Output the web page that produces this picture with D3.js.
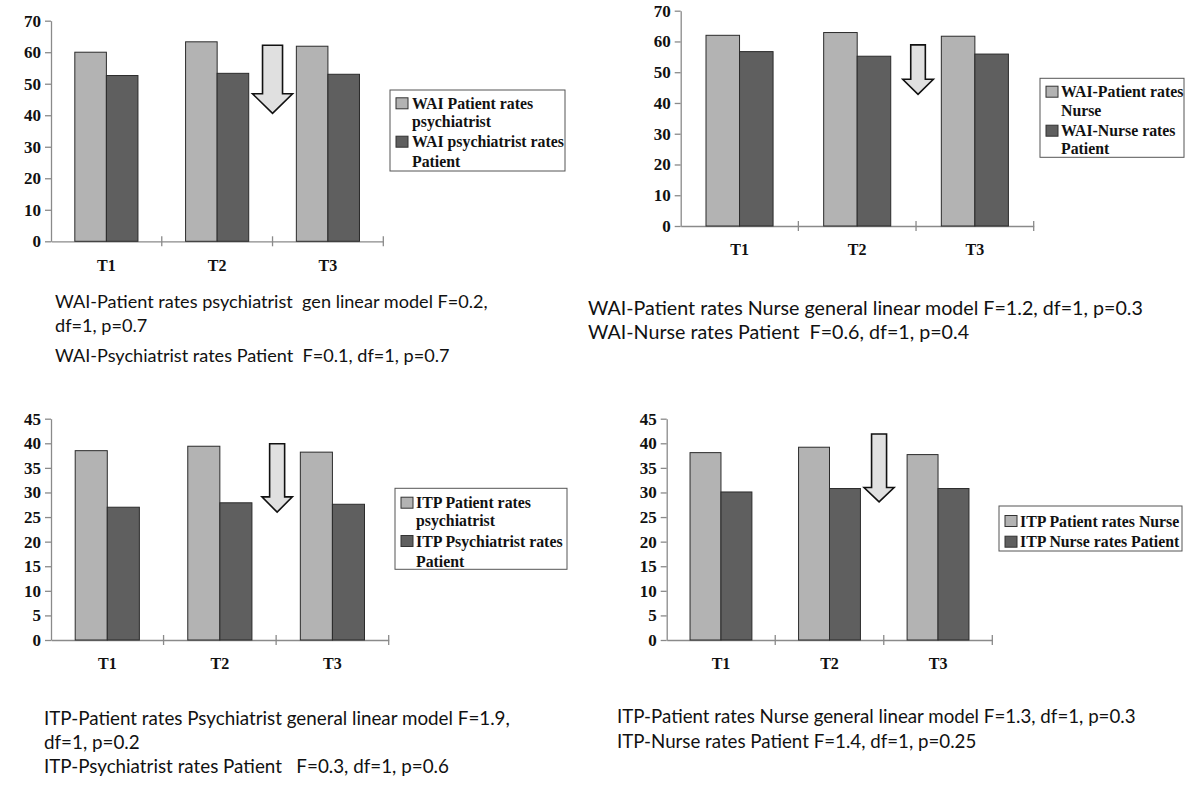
<!DOCTYPE html>
<html><head><meta charset="utf-8">
<script src="https://cdn.jsdelivr.net/npm/d3@7"></script>
<style>html,body{margin:0;padding:0;background:#fff;}</style>
</head><body>
<svg id="chart" width="1200" height="791"></svg>
<script>
// ---------- DATA ----------
const categories = ["T1", "T2", "T3"];
const waiPatientRatesPsychiatrist = [60.0, 63.3, 61.9];
const waiPsychiatristRatesPatient = [52.6, 53.3, 53.0];
const waiPatientRatesNurse = [62.0, 62.9, 61.7];
const waiNurseRatesPatient = [56.7, 55.2, 55.9];
const itpPatientRatesPsychiatrist = [38.5, 39.4, 38.2];
const itpPsychiatristRatesPatient = [27.0, 27.9, 27.6];
const itpPatientRatesNurse = [38.1, 39.2, 37.7];
const itpNurseRatesPatient = [30.1, 30.8, 30.8];
const waiTicks = [0, 10, 20, 30, 40, 50, 60, 70];
const itpTicks = [0, 5, 10, 15, 20, 25, 30, 35, 40, 45];
// arrow annotations (value units: top, neck, tip)
const arrow1 = [62.2, 46.8, 40.6];
const arrow2 = [58.9, 47.7, 42.8];
const arrow3 = [39.9, 29.1, 26.0];
const arrow4 = [41.9, 31.0, 28.1];
const legend1 = [["WAI Patient rates", "psychiatrist"], ["WAI psychiatrist rates", "Patient"]];
const legend2 = [["WAI-Patient rates", "Nurse"], ["WAI-Nurse rates", "Patient"]];
const legend3 = [["ITP Patient rates", "psychiatrist"], ["ITP Psychiatrist rates", "Patient"]];
const legend4 = [["ITP Patient rates Nurse"], ["ITP Nurse rates Patient"]];
const caption1 = ["WAI-Patient rates psychiatrist  gen linear model F=0.2,", "df=1, p=0.7", "WAI-Psychiatrist rates Patient  F=0.1, df=1, p=0.7"];
const caption2 = ["WAI-Patient rates Nurse general linear model F=1.2, df=1, p=0.3", "WAI-Nurse rates Patient  F=0.6, df=1, p=0.4"];
const caption3 = ["ITP-Patient rates Psychiatrist general linear model F=1.9,", "df=1, p=0.2", "ITP-Psychiatrist rates Patient   F=0.3, df=1, p=0.6"];
const caption4 = ["ITP-Patient rates Nurse general linear model F=1.3, df=1, p=0.3", "ITP-Nurse rates Patient F=1.4, df=1, p=0.25"];

// ---------- STYLE / LAYOUT ----------
const barColors = ["#b3b3b3", "#5f5f5f"];
const axisColor = "#8a8a8a";
const serif = "'Liberation Serif','Times New Roman',serif";
const sans = "Lato,'Open Sans',sans-serif";
const groupFrac = 0.57;

const panels = [
  { left: 51, right: 383.3, top: 20.7, bottom: 241.3, max: 70, ticks: waiTicks,
    series: [waiPatientRatesPsychiatrist, waiPsychiatristRatesPatient],
    arrow: arrow1, shaftW: 20, headW: 40, dx: 0,
    legend: { labels: legend1, box: [390, 90, 175, 81], swX: 396, txX: 412, rows: [[103.3, 121.7], [141.7, 161.7]] },
    caption: { lines: caption1, x: 55, ys: [301, 325, 355], width: 433 } },
  { left: 680.7, right: 1033.7, top: 10.7, bottom: 226, max: 70, ticks: waiTicks,
    series: [waiPatientRatesNurse, waiNurseRatesPatient],
    arrow: arrow2, shaftW: 14.6, headW: 30.6, dx: 2,
    legend: { labels: legend2, box: [1040, 78.3, 144, 79], swX: 1046, txX: 1061, rows: [[91.7, 110], [130.7, 148.3]] },
    caption: { lines: caption2, x: 588, ys: [307, 331], width: 555 } },
  { left: 51, right: 388.7, top: 418.7, bottom: 640, max: 45, ticks: itpTicks,
    series: [itpPatientRatesPsychiatrist, itpPsychiatristRatesPatient],
    arrow: arrow3, shaftW: 15, headW: 30.4, dx: 1,
    legend: { labels: legend3, box: [395, 488.3, 172, 81], swX: 401, txX: 416, rows: [[502.7, 520.7], [541, 561]] },
    caption: { lines: caption3, x: 44, ys: [717, 741, 765], width: 466 } },
  { left: 666.7, right: 992.3, top: 418.7, bottom: 640, max: 45, ticks: itpTicks,
    series: [itpPatientRatesNurse, itpNurseRatesPatient],
    arrow: arrow4, shaftW: 15, headW: 30, dx: -4.7,
    legend: { labels: legend4, box: [999, 506, 183, 45], swX: 1005, txX: 1020, rows: [[521], [541.7]] },
    caption: { lines: caption4, x: 617, ys: [716, 741], width: 519 } }
];

const svg = d3.select("#chart");

function drawPanel(p) {
  const g = svg.append("g");
  const x = d3.scaleBand().domain(categories).range([p.left, p.right]).padding(0);
  const y = d3.scaleLinear().domain([0, p.max]).range([p.bottom, p.top]);
  const bw = x.bandwidth();
  const inner = d3.scaleBand().domain([0, 1]).range([bw * (1 - groupFrac) / 2, bw * (1 + groupFrac) / 2]).padding(0);

  // y axis
  const ya = g.append("g").attr("transform", `translate(${p.left},0)`)
    .call(d3.axisLeft(y).tickValues(p.ticks).tickSize(6).tickSizeOuter(0).tickPadding(4).tickFormat(d3.format("d")));
  ya.selectAll("path.domain").attr("stroke", axisColor).attr("stroke-width", 1.3);
  ya.selectAll(".tick line").attr("stroke", axisColor).attr("stroke-width", 1.3);
  ya.selectAll("text").attr("font-family", serif).attr("font-weight", "bold").attr("font-size", 17).attr("fill", "#111");

  // x axis
  const xa = g.append("g").attr("transform", `translate(0,${p.bottom})`)
    .call(d3.axisBottom(x).tickSize(0).tickSizeOuter(0).tickPadding(18));
  xa.selectAll("path.domain").attr("stroke", axisColor).attr("stroke-width", 1.3);
  xa.selectAll("text").attr("font-family", serif).attr("font-weight", "bold").attr("font-size", 16).attr("fill", "#111");
  g.selectAll("line.bound").data(categories).enter().append("line")
    .attr("x1", d => x(d) + bw).attr("x2", d => x(d) + bw)
    .attr("y1", p.bottom - 5).attr("y2", p.bottom + 5)
    .attr("stroke", axisColor).attr("stroke-width", 1.3);

  // bars
  p.series.forEach((vals, j) => {
    g.selectAll(null).data(categories).enter().append("rect")
      .attr("x", (c) => x(c) + inner(j))
      .attr("y", (c, i) => y(vals[i]))
      .attr("width", inner.bandwidth())
      .attr("height", (c, i) => y(0) - y(vals[i]))
      .attr("fill", barColors[j])
      .attr("stroke", "#2b2b2b").attr("stroke-width", 1);
  });

  // arrow
  const cx = x("T3") + p.dx;
  const [a0, a1, a2] = p.arrow;
  const sw = p.shaftW / 2, hw = p.headW / 2;
  const pts = [[cx - sw, y(a0)], [cx + sw, y(a0)], [cx + sw, y(a1)], [cx + hw, y(a1)], [cx, y(a2)], [cx - hw, y(a1)], [cx - sw, y(a1)]];
  g.append("polygon").attr("points", pts.map(d => d.join(",")).join(" "))
    .attr("fill", "#e0e0e0").attr("stroke", "#111").attr("stroke-width", 1.6).attr("stroke-linejoin", "miter");

  // legend
  const L = p.legend;
  g.append("rect").attr("x", L.box[0]).attr("y", L.box[1]).attr("width", L.box[2]).attr("height", L.box[3])
    .attr("fill", "#fff").attr("stroke", "#555").attr("stroke-width", 1);
  L.labels.forEach((lines, j) => {
    const r = L.rows[j];
    g.append("rect").attr("x", L.swX).attr("y", r[0] - 5.5).attr("width", 12).attr("height", 11)
      .attr("fill", barColors[j]).attr("stroke", "#333").attr("stroke-width", 1);
    lines.forEach((t, k) => {
      g.append("text").attr("x", L.txX).attr("y", r[k]).attr("dominant-baseline", "central")
        .attr("font-family", serif).attr("font-weight", "bold").attr("font-size", 15.8).attr("fill", "#111").text(t);
    });
  });

  // caption
  const C = p.caption;
  const cg = g.append("g");
  const texts = C.lines.map((t, k) => cg.append("text").attr("x", C.x).attr("y", C.ys[k])
    .attr("dominant-baseline", "central").style("white-space", "pre")
    .attr("font-family", sans).attr("font-size", 16).attr("fill", "#111").text(t));
  const w = texts[0].node().getComputedTextLength();
  const fs = 16 * C.width / w;
  texts.forEach(t => t.attr("font-size", fs.toFixed(2)));
}

panels.forEach(drawPanel);
</script>
</body></html>
